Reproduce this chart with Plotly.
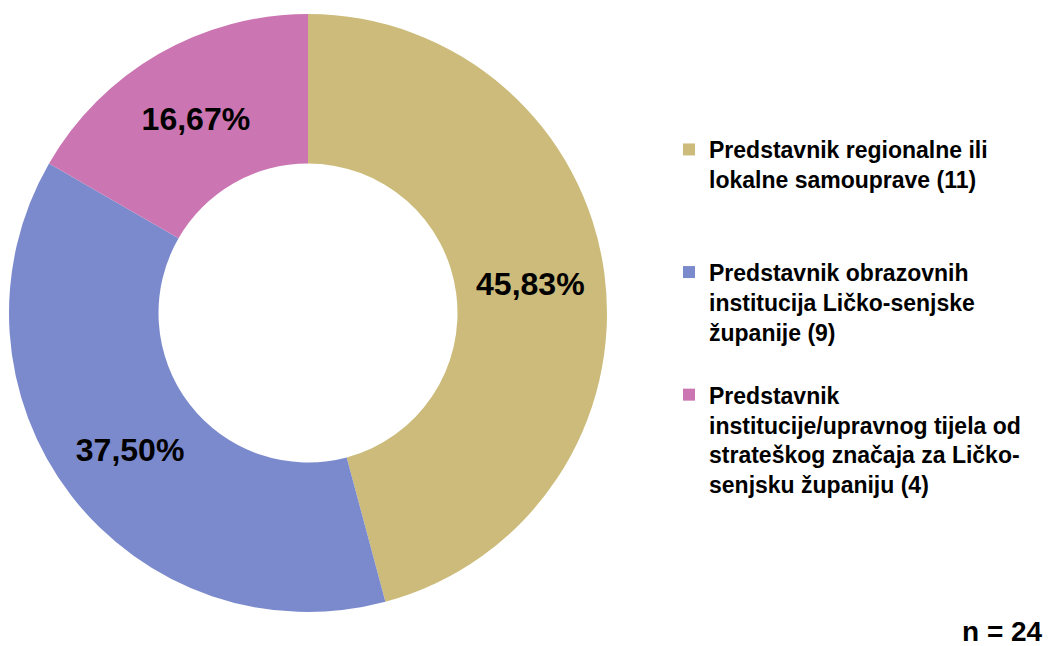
import plotly.graph_objects as go

labels = [
    "Predstavnik regionalne ili<br>lokalne samouprave (11)",
    "Predstavnik obrazovnih<br>institucija Ličko-senjske<br>županije (9)",
    "Predstavnik<br>institucije/upravnog tijela od<br>strateškog značaja za Ličko-<br>senjsku županiju (4)",
]
values = [11, 9, 4]
pct_text = ["45,83%", "37,50%", "16,67%"]
colors = ["#CCBB7A", "#7B8ACC", "#CB76B2"]
n_label = "n = 24"

# pad legend labels to 4 lines so items are evenly spaced
max_lines = max(l.count("<br>") + 1 for l in labels)
legend_labels = [l + "<br> " * (max_lines - (l.count("<br>") + 1)) for l in labels]

W, H = 1059, 646
cx, cy, r = 308, 313, 299

fig = go.Figure(go.Pie(
    labels=legend_labels,
    values=values,
    text=pct_text,
    textinfo="text",
    textposition="inside",
    insidetextorientation="horizontal",
    textfont=dict(family="Liberation Sans, Arial", size=32, color="black", weight="bold"),
    marker=dict(colors=colors, line=dict(width=0)),
    hole=0.5,
    sort=False,
    direction="clockwise",
    rotation=0,
    domain=dict(x=[(cx - r) / W, (cx + r) / W], y=[(H - cy - r) / H, (H - cy + r) / H]),
    hoverinfo="skip",
))

fig.update_layout(
    width=W, height=H,
    margin=dict(l=0, r=0, t=0, b=0),
    paper_bgcolor="white",
    plot_bgcolor="white",
    showlegend=True,
    legend=dict(
        x=(709 - 40) / W, xanchor="left",
        y=1 - 128 / H, yanchor="top",
        font=dict(family="Liberation Sans, Arial", size=23, color="black", weight="bold"),
        valign="top",
        bgcolor="rgba(0,0,0,0)",
        traceorder="normal",
    ),
    annotations=[dict(
        text=n_label, xref="paper", yref="paper",
        x=1045 / W, y=(H - 631) / H, xanchor="right", yanchor="middle",
        showarrow=False,
        font=dict(family="Liberation Sans, Arial", size=28, color="black", weight="bold"),
    )],
)

fig.write_html("out.html", config={"displayModeBar": False},
               post_script="document.body.style.margin='0px';")
